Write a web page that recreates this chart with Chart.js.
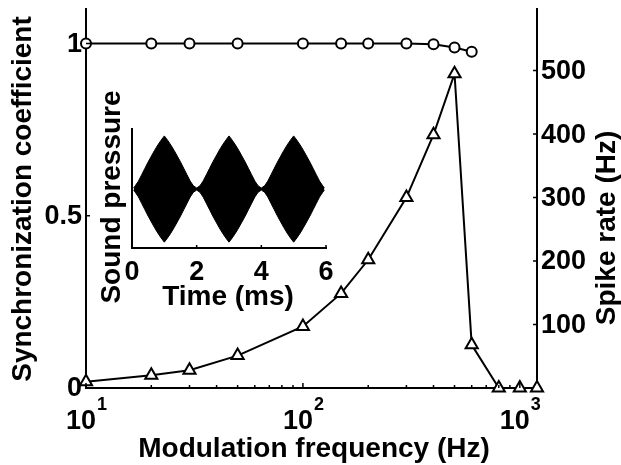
<!DOCTYPE html>
<html>
<head>
<meta charset="utf-8">
<script src="https://cdn.jsdelivr.net/npm/chart.js@4"></script>
<style>
html, body { margin: 0; padding: 0; background: #fff; }
#wrap { position: relative; width: 621px; height: 465px; }
#wrap canvas { position: absolute; left: 0; top: 0; }
</style>
</head>
<body>
<div id="wrap">
  <canvas id="main" width="621" height="465"></canvas>
  <canvas id="inset" width="621" height="465"></canvas>
</div>
<script>
// synchronization coefficient (left axis, circles)
const freqSync = [10, 20, 30, 50, 100, 150, 200, 300, 400, 500, 600];
const syncCoef = [1, 1, 1, 1, 1, 1, 1, 1, 0.998, 0.988, 0.976];

// spike rate (right axis, triangles)
const freqRate = [10, 20, 30, 50, 100, 150, 200, 300, 400, 500, 600, 800, 1000, 1200];
const spikeRate = [10, 20, 28, 51, 97, 149, 202, 300, 399, 495, 68, 0, 0, 0];

// tick labels
const syncTicks = [0, 0.5, 1];
const syncTickText = ['0', '0.5', '1'];
const rateTicks = [100, 200, 300, 400, 500];
const freqTicks = [10, 100, 1000];
const freqTickExp = ['1', '2', '3'];
const freqMinor = [20, 30, 40, 50, 60, 70, 80, 90, 200, 300, 400, 500, 600, 700, 800, 900];

// inset: envelope of the AM stimulus (ms, relative pressure)
const waveTime = [0.05, 0.1, 0.2, 0.3, 0.4, 0.5, 0.6, 0.7, 0.8, 0.9, 1.0, 1.1, 1.2, 1.3, 1.4, 1.5, 1.6, 1.7, 1.8, 1.9,
  2.0, 2.1, 2.2, 2.3, 2.4, 2.5, 2.6, 2.7, 2.8, 2.9, 3.0, 3.1, 3.2, 3.3, 3.4, 3.5, 3.6, 3.7, 3.8, 3.9,
  4.0, 4.1, 4.2, 4.3, 4.4, 4.5, 4.6, 4.7, 4.8, 4.9, 5.0, 5.1, 5.2, 5.3, 5.4, 5.5, 5.6, 5.7, 5.8, 5.9, 5.95];
const waveEnv = [0.02, 0.06, 0.15, 0.27, 0.39, 0.51, 0.62, 0.73, 0.83, 0.92, 1.0, 0.92, 0.83, 0.73, 0.62, 0.51, 0.39, 0.27, 0.15, 0.06,
  0.02, 0.06, 0.15, 0.27, 0.39, 0.51, 0.62, 0.73, 0.83, 0.92, 1.0, 0.92, 0.83, 0.73, 0.62, 0.51, 0.39, 0.27, 0.15, 0.06,
  0.02, 0.06, 0.15, 0.27, 0.39, 0.51, 0.62, 0.73, 0.83, 0.92, 1.0, 0.92, 0.83, 0.73, 0.62, 0.51, 0.39, 0.27, 0.15, 0.06, 0.02];
const timeTicks = [0, 2, 4, 6];

const FONT = '"Liberation Sans", Arial, sans-serif';
const TICK_FONT = 'bold 27px ' + FONT;
const EXP_FONT = 'bold 18px ' + FONT;
const TITLE_FONT = 'bold 28px ' + FONT;

function rotText(ctx, text, x, y) {
    ctx.save();
    ctx.translate(x, y);
    ctx.rotate(-Math.PI / 2);
    ctx.textAlign = 'center';
    ctx.textBaseline = 'middle';
    ctx.fillText(text, 0, 0);
    ctx.restore();
}

const mainLabels = {
    id: 'mainLabels',
    afterDraw(chart) {
        const ctx = chart.ctx;
        const { x, y, y2 } = chart.scales;
        const a = chart.chartArea;
        ctx.save();
        ctx.strokeStyle = '#000';
        ctx.lineWidth = 1.5;
        ctx.beginPath();
        syncTicks.forEach(v => { const p = y.getPixelForValue(v); ctx.moveTo(a.left, p); ctx.lineTo(a.left + 4, p); });
        rateTicks.forEach(v => { const p = y2.getPixelForValue(v); ctx.moveTo(a.right, p); ctx.lineTo(a.right - 4, p); });
        freqMinor.forEach(v => { const p = x.getPixelForValue(v); ctx.moveTo(p, a.bottom); ctx.lineTo(p, a.bottom - 3); });
        freqTicks.forEach(v => { const p = x.getPixelForValue(v); ctx.moveTo(p, a.bottom); ctx.lineTo(p, a.bottom - 5); });
        ctx.stroke();

        ctx.fillStyle = '#000';
        ctx.font = TICK_FONT;
        ctx.textBaseline = 'middle';
        ctx.textAlign = 'right';
        syncTicks.forEach((v, i) => ctx.fillText(syncTickText[i], a.left - 4, y.getPixelForValue(v) + 1));
        ctx.textAlign = 'left';
        rateTicks.forEach(v => ctx.fillText(String(v), a.right + 4, y2.getPixelForValue(v) + 1));

        // 10^n labels
        ctx.textBaseline = 'alphabetic';
        ctx.textAlign = 'left';
        freqTicks.forEach((v, i) => {
            const p = x.getPixelForValue(v);
            ctx.font = TICK_FONT;
            const wb = ctx.measureText('10').width;
            ctx.font = EXP_FONT;
            const we = ctx.measureText(freqTickExp[i]).width;
            const x0 = p - (wb + we) / 2;
            ctx.font = TICK_FONT;
            ctx.fillText('10', x0, 429);
            ctx.font = EXP_FONT;
            ctx.fillText(freqTickExp[i], x0 + wb + 1, 410);
        });

        ctx.font = TITLE_FONT;
        ctx.textAlign = 'center';
        ctx.textBaseline = 'middle';
        ctx.fillText('Modulation frequency (Hz)', 314, 449);
        rotText(ctx, 'Synchronization coefficient', 23, 199);
        rotText(ctx, 'Spike rate (Hz)', 607, 228);
        ctx.restore();
    }
};

new Chart(document.getElementById('main'), {
    type: 'line',
    data: {
        datasets: [
            {
                label: 'Synchronization coefficient',
                data: freqSync.map((f, i) => ({ x: f, y: syncCoef[i] })),
                yAxisID: 'y',
                borderColor: '#000',
                borderWidth: 2,
                pointStyle: 'circle',
                pointRadius: 5,
                pointBorderWidth: 2,
                pointBackgroundColor: '#fff',
                pointBorderColor: '#000',
                clip: false
            },
            {
                label: 'Spike rate',
                data: freqRate.map((f, i) => ({ x: f, y: spikeRate[i] })),
                yAxisID: 'y2',
                borderColor: '#000',
                borderWidth: 2,
                pointStyle: 'triangle',
                pointRadius: 7,
                pointBorderWidth: 2,
                pointBackgroundColor: '#fff',
                pointBorderColor: '#000',
                clip: false
            }
        ]
    },
    options: {
        responsive: false,
        animation: false,
        layout: { padding: { left: 86, right: 84, top: 8, bottom: 77 } },
        plugins: { legend: { display: false }, tooltip: { enabled: false } },
        scales: {
            x: {
                type: 'logarithmic', min: 10, max: 1200,
                ticks: { display: false },
                grid: { display: false, drawTicks: false },
                border: { display: true, color: '#000', width: 2 }
            },
            y: {
                position: 'left', min: 0, max: 1.1,
                ticks: { display: false },
                grid: { display: false, drawTicks: false },
                border: { display: true, color: '#000', width: 2 }
            },
            y2: {
                position: 'right', min: 0, max: 597,
                ticks: { display: false },
                grid: { display: false, drawTicks: false },
                border: { display: true, color: '#000', width: 2 }
            }
        }
    },
    plugins: [mainLabels]
});

const insetLabels = {
    id: 'insetLabels',
    afterDraw(chart) {
        const ctx = chart.ctx;
        const { x } = chart.scales;
        const a = chart.chartArea;
        ctx.save();
        ctx.strokeStyle = '#000';
        ctx.lineWidth = 1.5;
        ctx.beginPath();
        timeTicks.forEach(v => { const p = x.getPixelForValue(v); ctx.moveTo(p, a.bottom); ctx.lineTo(p, a.bottom - 3); });
        ctx.stroke();
        ctx.fillStyle = '#000';
        ctx.font = TICK_FONT;
        ctx.textAlign = 'center';
        ctx.textBaseline = 'alphabetic';
        timeTicks.forEach(v => ctx.fillText(String(v), x.getPixelForValue(v), 280));
        ctx.font = TITLE_FONT;
        ctx.textBaseline = 'middle';
        ctx.fillText('Time (ms)', 228, 297);
        rotText(ctx, 'Sound pressure', 112, 197);
        ctx.restore();
    }
};

new Chart(document.getElementById('inset'), {
    type: 'line',
    data: {
        datasets: [
            {
                data: waveTime.map((t, i) => ({ x: t, y: waveEnv[i] })),
                borderColor: '#000',
                borderWidth: 1,
                backgroundColor: '#000',
                pointRadius: 0,
                fill: '+1'
            },
            {
                data: waveTime.map((t, i) => ({ x: t, y: -waveEnv[i] })),
                borderColor: '#000',
                borderWidth: 1,
                pointRadius: 0,
                fill: false
            }
        ]
    },
    options: {
        responsive: false,
        animation: false,
        layout: { padding: { left: 132, right: 295, top: 129, bottom: 217 } },
        plugins: { legend: { display: false }, tooltip: { enabled: false } },
        scales: {
            x: {
                type: 'linear', min: 0, max: 6,
                ticks: { display: false },
                grid: { display: false, drawTicks: false },
                border: { display: true, color: '#000', width: 2 }
            },
            y: {
                min: -1.11, max: 1.13,
                ticks: { display: false },
                grid: { display: false, drawTicks: false },
                border: { display: true, color: '#000', width: 2 }
            }
        }
    },
    plugins: [insetLabels]
});
</script>
</body>
</html>
